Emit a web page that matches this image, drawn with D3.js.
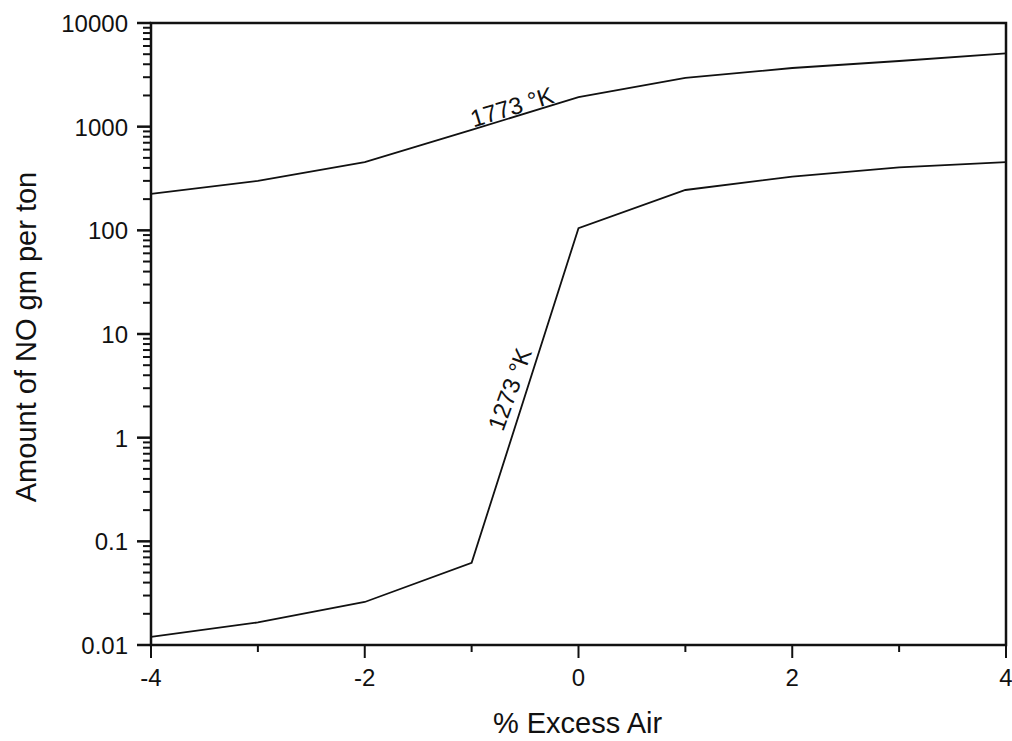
<!DOCTYPE html>
<html>
<head>
<meta charset="utf-8">
<script src="https://cdn.jsdelivr.net/npm/d3@7"></script>
<style>
  body { margin: 0; background: #fff; }
  text { font-family: "Liberation Sans", Arial, sans-serif; fill: #111; }
</style>
</head>
<body>
<svg id="chart" width="1012" height="741"></svg>
<script>
// data
var excessAir = [-4, -3, -2, -1, 0, 1, 2, 3, 4];
var no1773 = [225, 300, 455, 930, 1930, 2950, 3680, 4300, 5100];
var no1273 = [0.012, 0.0165, 0.026, 0.062, 105, 245, 330, 405, 455];
var yTicks = [0.01, 0.1, 1, 10, 100, 1000, 10000];
var yTickLabels = ["0.01", "0.1", "1", "10", "100", "1000", "10000"];
var xTicks = [-4, -3, -2, -1, 0, 1, 2, 3, 4];
var xLabelTicks = [-4, -2, 0, 2, 4];

var svg = d3.select("#chart");
var margin = { left: 151, right: 6, top: 23, bottom: 96 };
var width = 1012 - margin.left - margin.right;
var height = 741 - margin.top - margin.bottom;

var chart = svg.append("g")
    .attr("transform", "translate(" + margin.left + "," + margin.top + ")");

var x = d3.scaleLinear().domain([-4, 4]).range([0, width]);
var y = d3.scaleLog().domain([0.01, 10000]).range([height, 0]);

//minor log ticks
var minorY = [];
for (var e = -2; e < 4; e++) {
  for (var m = 2; m <= 9; m++) minorY.push(m * Math.pow(10, e));
}

chart.selectAll(".yminor")
  .data(minorY)
  .enter().append("line")
    .attr("x1", -8).attr("x2", 0)
    .attr("y1", function (d) { return y(d); })
    .attr("y2", function (d) { return y(d); })
    .attr("stroke", "#111").attr("stroke-width", 2);

chart.selectAll(".ymajor")
  .data(yTicks)
  .enter().append("line")
    .attr("x1", -14).attr("x2", 0)
    .attr("y1", function (d) { return y(d); })
    .attr("y2", function (d) { return y(d); })
    .attr("stroke", "#111").attr("stroke-width", 2.5);

chart.selectAll(".ylab")
  .data(yTicks)
  .enter().append("text")
    .attr("x", -23)
    .attr("y", function (d) { return y(d) + 9; })
    .attr("text-anchor", "end")
    .style("font-size", "24px")
    .text(function (d, i) { return yTickLabels[i]; });

//x ticks, long on labelled values
chart.selectAll(".xtick")
  .data(xTicks)
  .enter().append("line")
    .attr("x1", function (d) { return x(d); })
    .attr("x2", function (d) { return x(d); })
    .attr("y1", height)
    .attr("y2", function (d) { return height + (xLabelTicks.indexOf(d) > -1 ? 13 : 7); })
    .attr("stroke", "#111").attr("stroke-width", 2);

chart.selectAll(".xlab")
  .data(xLabelTicks)
  .enter().append("text")
    .attr("x", function (d) { return x(d); })
    .attr("y", height + 41)
    .attr("text-anchor", "middle")
    .style("font-size", "24px")
    .text(function (d) { return d < 0 ? "-" + Math.abs(d) : d; });

//frame
chart.append("rect")
    .attr("width", width).attr("height", height)
    .attr("fill", "none").attr("stroke", "#111").attr("stroke-width", 2.5);

var line = d3.line()
    .x(function (d) { return x(d[0]); })
    .y(function (d) { return y(d[1]); });

[no1773, no1273].forEach(function (series) {
  chart.append("path")
      .datum(d3.zip(excessAir, series))
      .attr("d", line)
      .attr("fill", "none")
      .attr("stroke", "#111")
      .attr("stroke-width", 1.8);
});

//curve labels
chart.append("text")
    .attr("transform", "translate(" + (x(-0.6)) + "," + (y(1300)) + ") rotate(-17)")
    .attr("text-anchor", "middle")
    .style("font-size", "24px")
    .text("1773 \u00b0K");

chart.append("text")
    .attr("transform", "translate(" + (x(-0.57)) + "," + (y(2.75)) + ") rotate(-70)")
    .attr("text-anchor", "middle")
    .style("font-size", "24px")
    .text("1273 \u00b0K");

//axis titles
svg.append("text")
    .attr("x", margin.left + width / 2 - 1)
    .attr("y", 733)
    .attr("text-anchor", "middle")
    .style("font-size", "29px")
    .text("% Excess Air");

svg.append("text")
    .attr("transform", "translate(36," + (margin.top + height / 2 + 3) + ") rotate(-90)")
    .attr("text-anchor", "middle")
    .style("font-size", "29px")
    .text("Amount of NO gm per ton");
</script>
</body>
</html>
